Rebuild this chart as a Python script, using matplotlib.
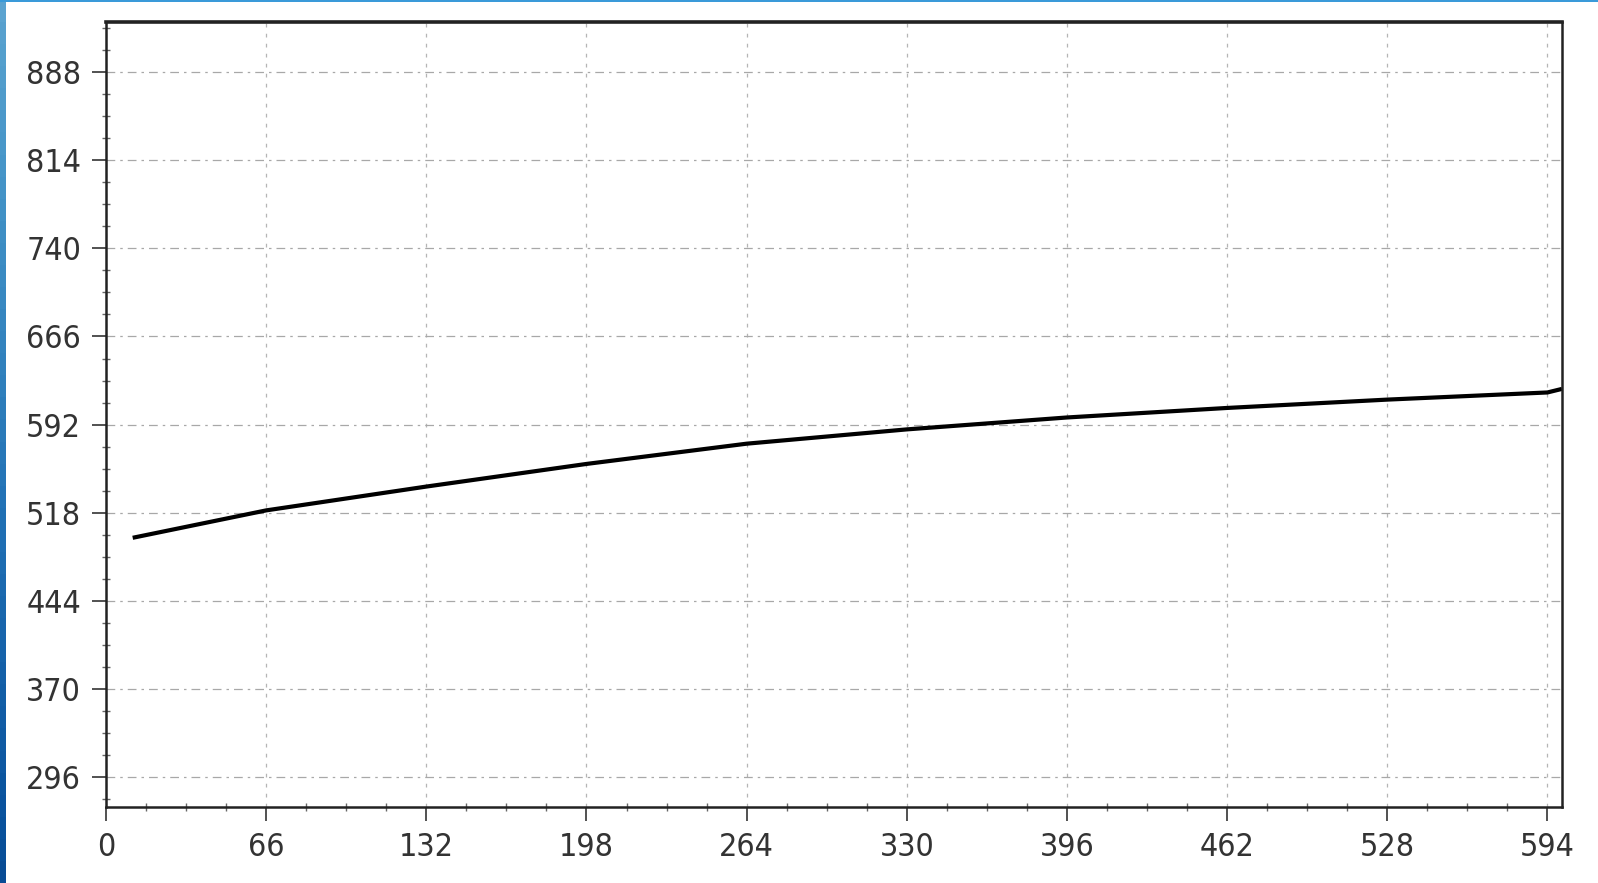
import matplotlib
matplotlib.use("Agg")
import matplotlib.pyplot as plt
from matplotlib.patches import Rectangle
from matplotlib.ticker import MultipleLocator

# values
x_vals = [11, 66, 132, 198, 264, 330, 396, 462, 528, 594, 600]
y_vals = [497, 520, 540, 559, 576, 588, 598, 606, 613, 619, 622]

x_ticks = [0, 66, 132, 198, 264, 330, 396, 462, 528, 594]
y_ticks = [296, 370, 444, 518, 592, 666, 740, 814, 888]

W, H = 1598, 883
fig = plt.figure(figsize=(W / 100, H / 100), dpi=100)
fig.patch.set_facecolor("white")

# blue frame strips from the slide the chart was pasted into
n = 40
for i in range(n):
    c = plt.cm.Blues(0.55 + 0.35 * i / n)
    fig.add_artist(Rectangle((0, 1 - (i + 1) / n), 6 / W, 1 / n,
                             transform=fig.transFigure, color=c, lw=0))
fig.add_artist(Rectangle((0, 1 - 2 / H), 1, 2 / H, transform=fig.transFigure,
                         color="#3a9ad9", lw=0))

ax = fig.add_axes([106 / W, (H - 807) / H, (1562 - 106) / W, (807 - 22) / H])
ax.plot(x_vals, y_vals, color="black", lw=3.0, solid_capstyle="butt")

ax.set_xlim(0, 600)
ax.set_ylim(271, 930)
ax.set_xticks(x_ticks)
ax.set_yticks(y_ticks)
ax.xaxis.set_minor_locator(MultipleLocator(16.5))
ax.yaxis.set_minor_locator(MultipleLocator(18.5))

ax.xaxis.grid(True, which="major", color="#b5b5b5", lw=0.9, linestyle=(0, (3, 5)))
ax.yaxis.grid(True, which="major", color="#a8a8a8", lw=0.9, linestyle=(0, (7, 4, 2, 4)))

for side, s in ax.spines.items():
    s.set_color("#222222")
    s.set_linewidth(1.8)
ax.spines["top"].set_linewidth(2.6)

ax.tick_params(which="major", direction="out", length=10, width=1.2,
               color="#333333", labelsize=23, labelcolor="#333333", pad=8)
ax.tick_params(which="minor", direction="inout", length=6, width=1.0,
               color="#666666")
for lab in ax.get_xticklabels() + ax.get_yticklabels():
    lab.set_fontstretch("condensed")
    lab.set_family("DejaVu Sans")

fig.savefig("out.png", dpi=100, facecolor="white")
